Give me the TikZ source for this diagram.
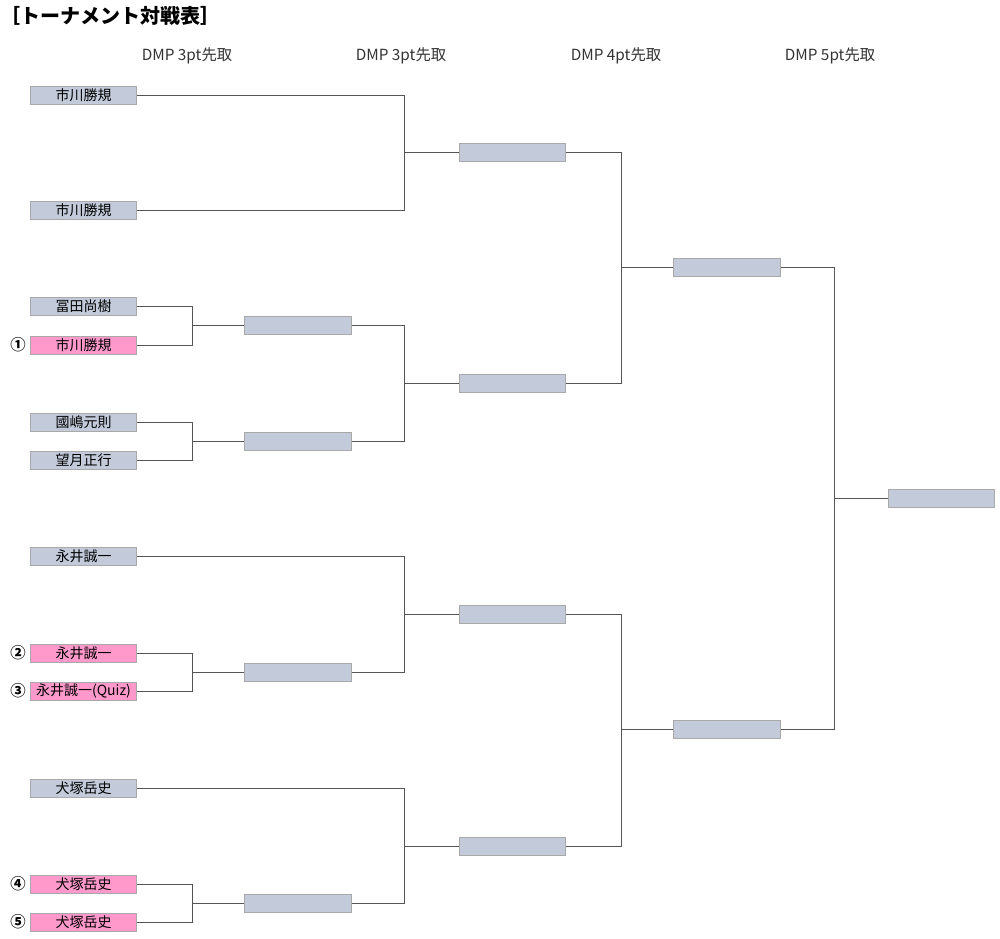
\documentclass[tikz,border=0pt]{standalone}
\usepackage{fontspec}
\setmainfont{Noto Sans CJK JP}
\usetikzlibrary{calc}
\definecolor{boxfill}{HTML}{C3CBDB}
\definecolor{boxline}{HTML}{A9A9A9}
\definecolor{pinkfill}{HTML}{FF99CC}
\definecolor{wire}{HTML}{555555}
\definecolor{headc}{HTML}{333333}
\tikzset{
  entry/.style={draw=boxline, fill=boxfill, line width=0.6pt, minimum width=80pt, minimum height=13.5pt, inner sep=0pt, font=\fontsize{10.5}{12}\selectfont},
  pinkentry/.style={entry, fill=pinkfill},
  header/.style={font=\fontsize{11.5}{13}\selectfont, text=headc, inner sep=0pt},
  seed/.style={font=\fontsize{11.5}{13}\selectfont\bfseries, inner sep=0pt},
  wireline/.style={draw=wire, line width=0.6pt},
}
\begin{document}
\begin{tikzpicture}[x=0.75pt,y=-0.75pt]
\useasboundingbox (0,0) rectangle (1000,939);
% title
\node[anchor=west, inner sep=0pt, font=\fontsize{15}{17}\selectfont\bfseries] (title) at (0,16) {［トーナメント対戦表］};
% headers
\node[header] (h1) at (187,56) {DMP 3pt先取};
\node[header] (h2) at (401,56) {DMP 3pt先取};
\node[header] (h3) at (616,56) {DMP 4pt先取};
\node[header] (h4) at (830,56) {DMP 5pt先取};
% column 1
\node[entry] (a1) at (83.5,95) {市川勝規};
\node[entry] (a2) at (83.5,210) {市川勝規};
\node[entry] (a3) at (83.5,306) {冨田尚樹};
\node[pinkentry] (a4) at (83.5,345) {市川勝規};
\node[entry] (a5) at (83.5,422) {國嶋元則};
\node[entry] (a6) at (83.5,460) {望月正行};
\node[entry] (a7) at (83.5,556) {永井誠一};
\node[pinkentry] (a8) at (83.5,653) {永井誠一};
\node[pinkentry] (a9) at (83.5,691) {永井誠一(Quiz)};
\node[entry] (a10) at (83.5,788) {犬塚岳史};
\node[pinkentry] (a11) at (83.5,884) {犬塚岳史};
\node[pinkentry] (a12) at (83.5,922) {犬塚岳史};
% seeds
\node[seed] (s1) at (18,345) {①};
\node[seed] (s2) at (18,653) {②};
\node[seed] (s3) at (18,691) {③};
\node[seed] (s4) at (18,884) {④};
\node[seed] (s5) at (18,922) {⑤};
% column 2
\node[entry] (b1) at (298,325) {};
\node[entry] (b2) at (298,441) {};
\node[entry] (b3) at (298,672) {};
\node[entry] (b4) at (298,903) {};
% column 3
\node[entry] (c1) at (512.5,152) {};
\node[entry] (c2) at (512.5,383) {};
\node[entry] (c3) at (512.5,614) {};
\node[entry] (c4) at (512.5,846) {};
% column 4
\node[entry] (d1) at (727,267) {};
\node[entry] (d2) at (727,729) {};
% column 5
\node[entry] (e1) at (941.5,498) {};
% connectors
\foreach \u/\v/\w/\g in {a3/a4/b1/52, a5/a6/b2/52, a8/a9/b3/52, a11/a12/b4/52,
                         a1/a2/c1/54, b1/b2/c2/54, a7/b3/c3/54, a10/b4/c4/54,
                         c1/c2/d1/52, c3/c4/d2/52, d1/d2/e1/53} {
  \coordinate (j-\w) at ([xshift=-\g*0.75pt]\w.west);
  \draw[wireline] (\u.east) -| (j-\w) |- (\v.east);
  \draw[wireline] (j-\w) -- (\w.west);
}
\end{tikzpicture}
\end{document}
